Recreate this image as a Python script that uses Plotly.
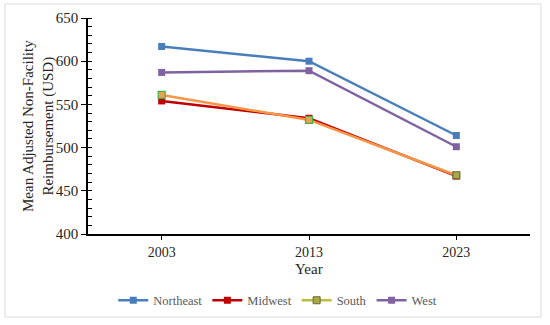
import plotly.graph_objects as go

years = ["2003", "2013", "2023"]
northeast = [617, 600, 514]
midwest = [554, 534, 467]
south = [561, 532, 468]
west = [587, 589, 501]

font_family = "Liberation Serif, DejaVu Serif, serif"

fig = go.Figure()
fig.add_trace(go.Scatter(x=years, y=northeast, name="Northeast", mode="lines+markers",
                         line=dict(color="#4A7EBB", width=2.5),
                         marker=dict(symbol="square", size=7, color="#4A7EBB"),
                         legendrank=1))
fig.add_trace(go.Scatter(x=years, y=west, name="West", mode="lines+markers",
                         line=dict(color="#7F62A1", width=2.5),
                         marker=dict(symbol="square", size=7, color="#7F62A1"),
                         legendrank=4))
fig.add_trace(go.Scatter(x=years, y=midwest, name="Midwest", mode="lines+markers",
                         line=dict(color="#C00000", width=2.5),
                         marker=dict(symbol="square", size=7, color="#C00000"),
                         legendrank=2))
fig.add_trace(go.Scatter(x=years, y=south, name="South", mode="lines+markers",
                         line=dict(color="#F79646", width=2.5),
                         marker=dict(symbol="square", size=7, color=["#F0A050", "#F0A050", "#A8A848"],
                                     line=dict(color=["#3CB44B", "#3CB44B", "#6B6B30"], width=1.2)),
                         showlegend=False))
fig.add_trace(go.Scatter(x=[None], y=[None], name="South", mode="lines+markers",
                         line=dict(color="#BDBD40", width=2.5),
                         marker=dict(symbol="square", size=7, color="#A8A848",
                                     line=dict(color="#6B6B30", width=1)),
                         legendrank=3))

L, R, T, B = 88, 20, 18, 91
PW, PH = 550 - L - R, 325 - T - B

fig.update_layout(
    width=550, height=325,
    margin=dict(l=L, r=R, t=T, b=B),
    paper_bgcolor="white", plot_bgcolor="white",
    font=dict(family=font_family, size=14, color="#262626"),
    showlegend=True,
    legend=dict(orientation="h", xref="container", x=0.505, xanchor="center",
                yref="container", y=0.075, yanchor="middle",
                font=dict(size=12.5, color="#595959"), itemwidth=30, tracegroupgap=0,
                traceorder="normal"),
    xaxis=dict(type="category", range=[-0.5, 2.5], showline=True, linecolor="black", linewidth=1.5,
               ticks="outside", ticklen=4, tickcolor="black", showgrid=False, zeroline=False,
               automargin=False,
               tickfont=dict(size=14, color="#262626")),
    yaxis=dict(range=[400, 650], dtick=50, showline=True, linecolor="black", linewidth=1.5,
               ticks="outside", ticklen=5, tickcolor="black", showgrid=False, zeroline=False,
               automargin=False,
               tickfont=dict(size=15, color="#262626"),
               minor=dict(dtick=10, ticks="inside", ticklen=4, tickcolor="black", showgrid=False)),
    annotations=[
        dict(text="Mean Adjusted Non-Facility<br>Reimbursement (USD)", textangle=-90,
             xref="paper", yref="paper", x=(38 - L) / PW, y=0.5, xanchor="center", yanchor="middle",
             showarrow=False, font=dict(size=15, color="#262626")),
        dict(text="Year", xref="paper", yref="paper", x=0.5, y=-(269 - (T + PH)) / PH,
             xanchor="center", yanchor="middle", showarrow=False,
             font=dict(size=15, color="#262626")),
    ],
)

fig.add_shape(type="rect", xref="paper", yref="paper",
              x0=(5 - L) / PW, x1=(541 - L) / PW, y0=-(317 - T - PH) / PH, y1=(T + PH - 4) / PH,
              line=dict(color="#D9D9D9", width=1), fillcolor="rgba(0,0,0,0)", layer="below")

fig.write_html("out.html", config={"displayModeBar": False},
               post_script="document.body.style.margin='0';document.body.style.padding='0';")
